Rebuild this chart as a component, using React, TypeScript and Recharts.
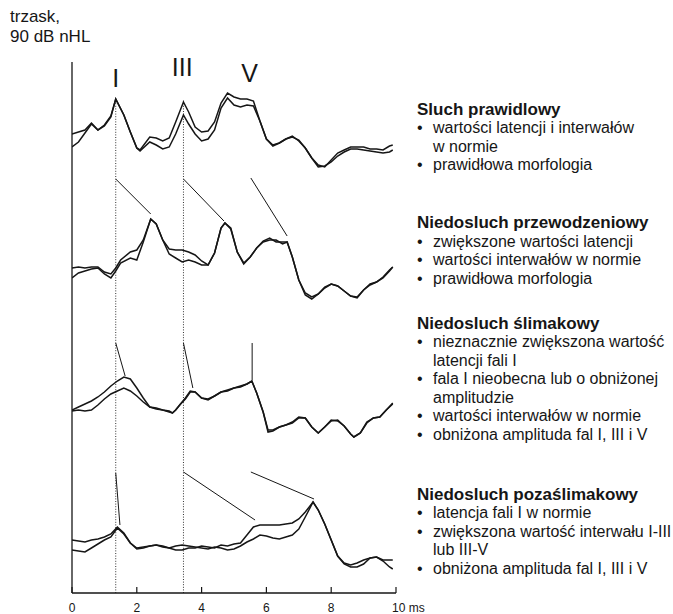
import { LineChart, Line, XAxis, YAxis, ReferenceLine, ReferenceDot } from "recharts";

// ABR, click 90 dB nHL. x = latency (ms), y = amplitude in arbitrary units, traces stacked top to bottom
const normalT = [0, 0.2, 0.4, 0.6, 0.8, 1.0, 1.2, 1.35, 1.6, 1.8, 2.0, 2.1, 2.4, 2.6, 2.8, 3.0, 3.2, 3.44, 3.6, 3.8, 4.0, 4.2, 4.4, 4.6, 4.8, 5.0, 5.2, 5.4, 5.6, 5.8, 6.0, 6.2, 6.4, 6.6, 6.8, 7.0, 7.2, 7.4, 7.6, 7.8, 8.0, 8.2, 8.4, 8.6, 8.8, 9.0, 9.2, 9.4, 9.6, 9.8, 9.9];
const normalA = [91.8, 92.2, 92.6, 94.0, 92.6, 93.6, 95.4, 98.8, 95.6, 92.2, 89.0, 88.6, 91.2, 91.0, 90.4, 91.0, 94.2, 98.2, 96.2, 93.2, 92.2, 92.4, 94.2, 98.0, 100.0, 99.2, 98.8, 98.8, 98.4, 94.4, 90.8, 89.6, 90.0, 90.8, 91.4, 90.4, 89.0, 87.0, 85.6, 85.2, 86.6, 88.0, 88.6, 89.2, 89.2, 89.2, 88.8, 88.8, 88.6, 89.4, 89.6];
const normalB = [89.2, 90.2, 92.0, 93.8, 92.6, 93.4, 95.2, 98.8, 95.6, 92.2, 89.0, 88.4, 90.2, 89.6, 88.8, 89.2, 91.8, 95.6, 93.8, 91.8, 90.4, 90.8, 92.6, 97.0, 99.0, 97.6, 97.2, 97.6, 97.4, 94.4, 90.8, 89.4, 90.0, 90.8, 91.2, 90.6, 89.0, 87.0, 85.2, 85.4, 86.2, 87.4, 88.2, 88.8, 88.8, 88.6, 88.4, 88.2, 88.0, 88.2, 88.6];

const conductiveT = [0, 0.2, 0.4, 0.6, 0.8, 1.0, 1.2, 1.35, 1.5, 1.8, 2.0, 2.2, 2.43, 2.6, 2.8, 3.0, 3.2, 3.4, 3.6, 3.8, 4.0, 4.2, 4.4, 4.6, 4.72, 4.9, 5.1, 5.3, 5.5, 5.7, 5.9, 6.1, 6.3, 6.5, 6.64, 6.8, 7.0, 7.2, 7.4, 7.6, 7.8, 8.0, 8.2, 8.4, 8.6, 8.8, 9.0, 9.2, 9.4, 9.6, 9.8, 9.9];
const conductiveA = [65.0, 65.2, 65.0, 65.2, 65.2, 64.2, 63.8, 65.0, 66.6, 68.2, 68.6, 70.6, 74.8, 73.8, 70.6, 68.8, 68.6, 68.6, 68.2, 67.6, 66.4, 65.6, 68.0, 73.0, 74.0, 73.0, 68.2, 66.0, 67.2, 69.0, 70.4, 71.0, 70.2, 70.2, 70.2, 67.2, 62.6, 60.0, 59.2, 59.8, 61.0, 61.8, 61.4, 60.4, 59.4, 59.2, 60.6, 61.8, 62.2, 63.2, 64.6, 65.2];
const conductiveB = [63.0, 64.0, 64.4, 64.8, 65.0, 63.8, 63.0, 64.4, 66.0, 67.0, 66.6, 70.2, 74.8, 73.8, 70.6, 67.8, 67.0, 66.2, 66.6, 66.2, 65.6, 65.6, 68.0, 73.0, 74.0, 72.8, 68.2, 65.8, 67.2, 69.0, 70.2, 70.6, 70.6, 69.8, 70.2, 67.2, 62.6, 59.6, 58.8, 59.8, 61.2, 61.8, 61.4, 60.4, 59.4, 59.0, 60.6, 61.6, 62.2, 63.0, 64.4, 65.2];

const cochlearT = [0, 0.2, 0.4, 0.6, 0.8, 1.0, 1.2, 1.4, 1.6, 1.8, 2.0, 2.2, 2.4, 2.6, 2.8, 3.0, 3.1, 3.2, 3.35, 3.5, 3.65, 3.8, 4.0, 4.2, 4.4, 4.6, 4.8, 5.0, 5.2, 5.4, 5.55, 5.7, 5.9, 6.05, 6.2, 6.4, 6.6, 6.8, 7.0, 7.2, 7.4, 7.6, 7.8, 8.0, 8.2, 8.4, 8.6, 8.7, 8.9, 9.1, 9.3, 9.5, 9.7, 9.9];
const cochlearA = [36.6, 37.2, 37.8, 38.4, 39.2, 40.2, 41.4, 42.4, 43.2, 42.8, 41.0, 39.0, 37.2, 37.0, 36.6, 36.4, 36.0, 36.6, 37.8, 39.0, 40.4, 40.2, 39.0, 38.8, 39.4, 40.2, 40.6, 41.0, 41.4, 41.8, 42.4, 40.0, 36.2, 32.6, 32.6, 33.2, 33.6, 34.2, 35.2, 35.0, 33.2, 32.0, 33.2, 34.6, 34.4, 33.4, 31.8, 31.2, 32.0, 34.2, 35.0, 35.2, 36.6, 38.0];
const cochlearB = [36.4, 36.6, 36.4, 36.6, 37.6, 38.8, 39.8, 40.4, 41.0, 40.4, 39.4, 38.2, 37.2, 36.8, 36.6, 36.2, 36.0, 36.6, 37.8, 38.8, 40.2, 40.2, 39.0, 38.6, 39.4, 40.2, 40.4, 41.0, 41.2, 41.8, 42.4, 40.0, 36.2, 32.2, 32.4, 33.2, 33.6, 34.0, 35.0, 35.0, 33.2, 32.0, 33.2, 34.4, 34.6, 33.4, 31.8, 31.2, 32.0, 34.0, 35.0, 35.2, 36.6, 37.8];

const retroT = [0, 0.2, 0.4, 0.6, 0.8, 1.0, 1.2, 1.4, 1.6, 1.8, 2.0, 2.2, 2.4, 2.6, 2.8, 3.0, 3.2, 3.4, 3.6, 3.8, 4.0, 4.2, 4.4, 4.6, 4.8, 5.0, 5.2, 5.4, 5.6, 5.8, 6.0, 6.2, 6.4, 6.6, 6.8, 7.0, 7.2, 7.44, 7.6, 7.8, 8.0, 8.2, 8.4, 8.6, 8.8, 9.0, 9.2, 9.4, 9.6, 9.8, 9.9];
const retroA = [10.6, 10.4, 10.2, 10.6, 10.8, 11.2, 11.8, 13.2, 12.0, 10.0, 9.0, 9.2, 9.4, 9.6, 9.2, 9.0, 8.6, 8.6, 9.0, 9.0, 9.4, 9.2, 9.0, 9.6, 9.4, 9.8, 10.0, 11.6, 13.2, 13.6, 13.6, 13.6, 13.6, 13.8, 14.0, 14.8, 16.2, 18.2, 16.6, 13.8, 10.6, 7.4, 6.0, 5.6, 6.0, 6.6, 7.0, 7.2, 6.6, 6.6, 6.6];
const retroB = [8.6, 8.4, 8.2, 9.0, 9.8, 10.6, 11.2, 13.0, 11.8, 10.0, 8.8, 9.0, 9.4, 9.6, 9.4, 9.0, 9.4, 9.6, 9.4, 9.2, 9.0, 8.8, 9.2, 9.0, 8.6, 8.8, 9.4, 10.2, 10.8, 11.6, 11.4, 11.0, 10.8, 11.2, 11.6, 12.8, 15.2, 18.2, 16.6, 13.8, 10.6, 7.4, 5.8, 5.2, 5.2, 5.8, 7.0, 7.2, 6.4, 5.2, 4.8];

// dotted latency markers for waves I and III (normal hearing)
const latencyMarkers = [1.35, 3.44];
const markerTop = 98.8;

const waveNames = ["I", "III", "V"];
const waveNameT = [1.35, 3.4, 5.48];
const waveNameY = [103, 105.2, 104];

// thin lines pointing at the shifted peaks: [t1, y1, t2, y2]
const peakLinks = [
  [1.35, 82.8, 2.43, 75.8],
  [3.44, 82.8, 4.69, 74.4],
  [5.52, 83.0, 6.64, 71.4],
  [1.35, 50.0, 1.64, 43.4],
  [3.44, 50.0, 3.73, 41.0],
  [5.56, 50.0, 5.56, 42.6],
  [1.35, 24.0, 1.48, 13.6],
  [3.44, 24.2, 5.65, 14.6],
  [5.52, 24.2, 7.47, 18.8],
];

const xTicks = [0, 2, 4, 6, 8, 10];

const titleLines = ["trzask,", "90 dB nHL"];

const blocks = [
  { title: "Sluch prawidlowy", items: [["wartości latencji i interwałów", "w normie"], ["prawidłowa morfologia"]] },
  { title: "Niedosluch przewodzeniowy", items: [["zwiększone wartości latencji"], ["wartości interwałów w normie"], ["prawidłowa morfologia"]] },
  {
    title: "Niedosluch ślimakowy",
    items: [
      ["nieznacznie zwiększona wartość", "latencji fali I"],
      ["fala I nieobecna lub o obniżonej", "amplitudzie"],
      ["wartości interwałów w normie"],
      ["obniżona amplituda fal I, III i V"],
    ],
  },
  {
    title: "Niedosluch pozaślimakowy",
    items: [["latencja fali I w normie"], ["zwiększona wartość interwału I-III", "lub III-V"], ["obniżona amplituda fal I, III i V"]],
  },
];
const blockTops = [100.5, 214, 314.5, 485.5];

const traces = [
  { t: normalT, a: normalA, b: normalB },
  { t: conductiveT, a: conductiveA, b: conductiveB },
  { t: cochlearT, a: cochlearA, b: cochlearB },
  { t: retroT, a: retroA, b: retroB },
];

const INK = "#161616";
const FONT = '"Liberation Sans", Arial, Helvetica, sans-serif';

const TimeTick = ({ x, y, payload }: any) => {
  const last = payload.value === 10;
  return (
    <text x={last ? x - 4 : x} y={y} dy="0.71em" textAnchor={last ? "start" : "middle"} fontSize={12} fill={INK}>
      {last ? "10 ms" : payload.value}
    </text>
  );
};

export default function App() {
  const series = traces.map((g) => ({
    a: g.t.map((t, i) => ({ t, v: g.a[i] })),
    b: g.t.map((t, i) => ({ t, v: g.b[i] })),
  }));

  return (
    <div style={{ position: "absolute", left: 0, top: 0, width: 673, height: 614, background: "#fff", fontFamily: FONT, color: INK }}>
      <div style={{ position: "absolute", left: 10, top: 7, fontSize: 17, lineHeight: "20px", whiteSpace: "nowrap" }}>
        {titleLines.map((l) => (
          <div key={l}>{l}</div>
        ))}
      </div>

      <LineChart width={673} height={614} margin={{ top: 62, right: 277, bottom: 0, left: 0 }}>
        <XAxis
          type="number"
          dataKey="t"
          domain={[0, 10]}
          ticks={xTicks}
          allowDataOverflow
          height={21}
          axisLine={{ stroke: INK, strokeWidth: 1.3 }}
          tickLine={{ stroke: INK, strokeWidth: 1.2 }}
          tickSize={-6}
          tickMargin={16}
          tick={<TimeTick />}
        />
        <YAxis
          type="number"
          dataKey="v"
          domain={[0, 106.2]}
          allowDataOverflow
          width={72}
          tick={false}
          tickLine={false}
          axisLine={{ stroke: INK, strokeWidth: 1.3 }}
        />
        {latencyMarkers.map((t) => (
          <ReferenceLine
            key={"m" + t}
            segment={[{ x: t, y: 0 }, { x: t, y: markerTop }]}
            stroke="#333"
            strokeWidth={1}
            strokeDasharray="1 1.6"
          />
        ))}
        {peakLinks.map((p, i) => (
          <ReferenceLine key={"l" + i} segment={[{ x: p[0], y: p[1] }, { x: p[2], y: p[3] }]} stroke={INK} strokeWidth={1} />
        ))}
        {series.map((s, i) => [
          <Line key={"a" + i} data={s.a} dataKey="v" type="linear" stroke={INK} strokeWidth={1.5} dot={false} isAnimationActive={false} />,
          <Line key={"b" + i} data={s.b} dataKey="v" type="linear" stroke={INK} strokeWidth={1.5} dot={false} isAnimationActive={false} />,
        ])}
        {waveNames.map((n, i) => (
          <ReferenceDot
            key={n}
            x={waveNameT[i]}
            y={waveNameY[i]}
            r={0}
            fill="none"
            stroke="none"
            label={{ value: n, position: "center", fontSize: 25, fill: INK }}
          />
        ))}
      </LineChart>

      {blocks.map((b, i) => (
        <div key={b.title} style={{ position: "absolute", left: 417, top: blockTops[i], fontSize: 16, lineHeight: "18.6px", whiteSpace: "nowrap" }}>
          <div style={{ fontWeight: "bold", fontSize: 17 }}>{b.title}</div>
          {b.items.map((lines, j) => (
            <div key={j} style={{ display: "flex" }}>
              <span style={{ width: 16, flex: "none" }}>•</span>
              <span>
                {lines.map((l, k) => (
                  <div key={k}>{l}</div>
                ))}
              </span>
            </div>
          ))}
        </div>
      ))}
    </div>
  );
}
